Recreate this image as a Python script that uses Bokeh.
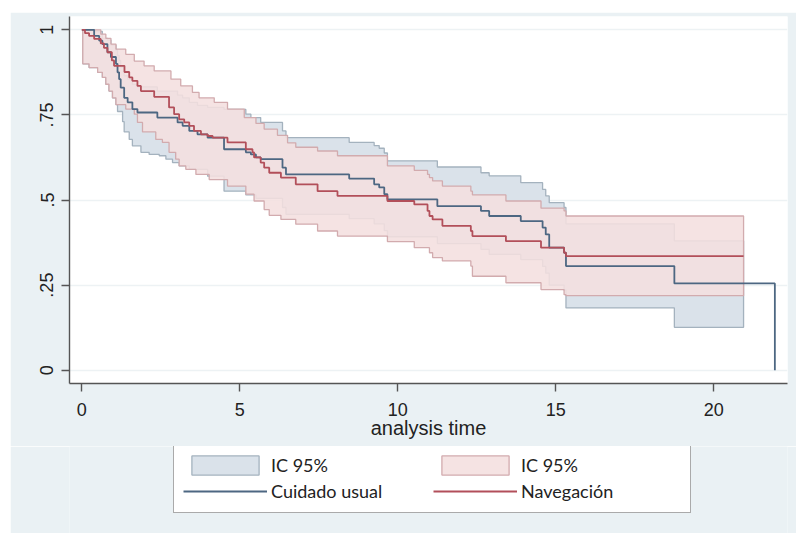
import numpy as np
from bokeh.plotting import figure
from bokeh.models import Range1d, FixedTicker, Legend, LegendItem, Spacer
from bokeh.layouts import column, row
from bokeh.embed import file_html
from bokeh.resources import INLINE

# ---- Kaplan-Meier estimates: step times and survival after each step ----
cu_time = [0, 0.39, 0.55, 0.65, 0.81, 0.92, 1.08, 1.13, 1.18, 1.23, 1.34, 1.45, 1.60, 1.76,
           2.39, 3.03, 3.19, 3.40, 3.66, 3.98, 4.50, 5.19, 5.35, 5.51, 5.66, 6.35, 6.46,
           8.46, 9.25, 9.41, 9.57, 9.67, 11.25, 12.63, 12.89, 13.89, 14.58, 14.68, 14.79,
           15.26, 15.32, 18.75, 21.93]
cu_surv = [1.0, 0.982, 0.968, 0.958, 0.934, 0.92, 0.90, 0.875, 0.855, 0.83, 0.80, 0.787, 0.767, 0.757,
           0.742, 0.728, 0.718, 0.703, 0.693, 0.683, 0.649, 0.64, 0.634, 0.625, 0.62, 0.595, 0.575,
           0.563, 0.546, 0.537, 0.517, 0.502, 0.482, 0.468, 0.453, 0.438, 0.419, 0.399, 0.36,
           0.345, 0.306, 0.255, 0.0]

nav_time = [0, 0.10, 0.23, 0.39, 0.60, 0.70, 0.81, 0.95, 1.02, 1.35, 1.50, 1.60, 1.76, 1.87, 2.29,
            2.76, 2.92, 3.08, 3.24, 3.40, 3.55, 3.77, 3.98, 4.14, 4.61, 5.19, 5.40, 5.45, 5.66,
            5.77, 5.93, 6.30, 6.77, 7.46, 8.09, 9.67, 10.52, 10.94, 11.00, 11.10, 11.41, 12.31,
            12.36, 13.42, 14.53, 15.26, 15.32]
nav_surv = [1.0, 0.99, 0.982, 0.973, 0.96, 0.947, 0.934, 0.91, 0.894, 0.876, 0.86, 0.85, 0.835, 0.82, 0.803,
            0.772, 0.752, 0.737, 0.728, 0.718, 0.703, 0.693, 0.688, 0.683, 0.669, 0.649, 0.64, 0.625, 0.61,
            0.595, 0.58, 0.566, 0.546, 0.526, 0.512, 0.497, 0.487, 0.468, 0.453, 0.443, 0.424, 0.409,
            0.394, 0.379, 0.36, 0.345, 0.335]
nav_end = 20.94        # last follow-up time, Navegación
ci_end = 20.94         # last time with a confidence interval (both groups)

# ---- 95% confidence limits ----
cu_up_time = [0.03, 0.39, 0.65, 0.81, 0.92, 1.08, 1.13, 1.18, 1.23, 1.34, 1.45, 1.60, 1.76, 2.39,
              3.03, 3.19, 3.40, 3.66, 3.98, 4.50, 5.19, 5.35, 5.66, 6.35, 6.46, 8.46, 9.25, 9.41,
              9.57, 9.67, 11.25, 12.63, 12.89, 13.89, 14.58, 14.68, 14.79, 15.26, 15.32, 18.75]
cu_up = [1.0, 0.995, 0.975, 0.97, 0.955, 0.94, 0.925, 0.91, 0.89, 0.865, 0.855, 0.84, 0.832, 0.82,
         0.808, 0.80, 0.787, 0.778, 0.772, 0.766, 0.752, 0.742, 0.728, 0.703, 0.683, 0.669, 0.66, 0.652,
         0.638, 0.615, 0.597, 0.58, 0.571, 0.551, 0.531, 0.512, 0.492, 0.478, 0.43, 0.38]

cu_lo_time = [0.03, 0.23, 0.50, 0.65, 0.76, 0.86, 0.97, 1.08, 1.13, 1.29, 1.34, 1.50, 1.60, 1.87,
              2.13, 2.45, 2.66, 2.87, 3.08, 3.40, 3.98, 4.50, 5.19, 5.51, 6.35, 6.46, 8.46, 9.25,
              9.57, 9.67, 11.25, 12.63, 12.89, 13.89, 14.58, 14.68, 14.79, 15.26, 15.32, 18.75]
cu_lo = [0.90, 0.889, 0.875, 0.86, 0.84, 0.82, 0.80, 0.78, 0.76, 0.73, 0.70, 0.678, 0.659, 0.64,
         0.634, 0.63, 0.62, 0.61, 0.60, 0.59, 0.57, 0.526, 0.515, 0.505, 0.478, 0.458, 0.445, 0.43,
         0.41, 0.392, 0.372, 0.355, 0.34, 0.325, 0.305, 0.285, 0.25, 0.235, 0.183, 0.126]

nav_up_time = [0.03, 0.60, 0.76, 0.92, 1.08, 1.39, 1.66, 1.97, 2.29, 2.82, 3.13, 3.50, 3.71, 4.19,
               4.61, 5.14, 5.51, 5.77, 6.19, 6.51, 6.77, 7.46, 8.09, 9.67, 10.52, 10.94, 11.00,
               11.10, 11.41, 12.31, 12.36, 13.42, 14.53, 15.26, 15.32]
nav_up = [1.0, 0.987, 0.975, 0.958, 0.943, 0.928, 0.908, 0.894, 0.879, 0.855, 0.835, 0.816, 0.80, 0.787,
          0.767, 0.742, 0.725, 0.708, 0.69, 0.668, 0.655, 0.644, 0.63, 0.60, 0.587, 0.575, 0.566,
          0.556, 0.541, 0.526, 0.515, 0.497, 0.476, 0.468, 0.453]

nav_lo_time = [0.03, 0.23, 0.50, 0.65, 0.76, 0.86, 0.97, 1.08, 1.39, 1.66, 1.76, 1.92, 2.34, 2.55,
               2.76, 2.97, 3.08, 3.29, 3.61, 4.03, 4.61, 5.19, 5.45, 5.77, 5.93, 6.30, 6.77, 7.46,
               8.09, 9.67, 10.52, 11.00, 11.10, 11.41, 12.31, 12.36, 13.42, 14.53, 15.26, 15.32]
nav_lo = [0.90, 0.889, 0.875, 0.86, 0.84, 0.82, 0.80, 0.78, 0.767, 0.752, 0.728, 0.70, 0.678, 0.669,
          0.64, 0.62, 0.60, 0.59, 0.575, 0.56, 0.541, 0.517, 0.497, 0.472, 0.455, 0.443, 0.429, 0.409,
          0.394, 0.378, 0.36, 0.345, 0.331, 0.321, 0.306, 0.276, 0.257, 0.237, 0.222, 0.219]

x_ticks = [0, 5, 10, 15, 20]
y_ticks = [0, 0.25, 0.5, 0.75, 1]
y_tick_labels = ["0", ".25", ".5", ".75", "1"]
x_label = "analysis time"
labels = ["IC 95%", "Cuidado usual", "IC 95%", "Navegación"]


def step_eval(times, vals, grid):
    t = np.asarray(times)
    v = np.asarray(vals)
    idx = np.searchsorted(t, grid, side="right") - 1
    return v[np.clip(idx, 0, len(v) - 1)]


def band_polygon(ut, uv, lt, lv, end):
    grid = np.union1d(ut, lt)
    grid = grid[grid < end]
    u = step_eval(ut, uv, grid)
    l = step_eval(lt, lv, grid)
    nxt = np.append(grid[1:], end)
    ux = np.column_stack([grid, nxt]).ravel()
    uy = np.repeat(u, 2)
    lx = np.column_stack([grid, nxt]).ravel()[::-1]
    ly = np.repeat(l, 2)[::-1]
    return np.concatenate([ux, lx]), np.concatenate([uy, ly])


BG = "#eaf1f4"
FONT = "Liberation Sans"
CU_FILL, CU_EDGE, CU_LINE = "#dae2ea", "#a4b2be", "#4d6782"
NAV_FILL, NAV_EDGE, NAV_LINE = "#f4dfdf", "#d2abae", "#b24f5a"

bx, by = band_polygon(cu_up_time, cu_up, cu_lo_time, cu_lo, ci_end)
rx, ry = band_polygon(nav_up_time, nav_up, nav_lo_time, nav_lo, ci_end)


def draw_curves(fig):
    a = fig.patch(bx, by, fill_color=CU_FILL, fill_alpha=1.0, line_color=CU_EDGE, line_width=1.3)
    b = fig.patch(rx, ry, fill_color=NAV_FILL, fill_alpha=0.88, line_color=NAV_EDGE, line_width=1.3)
    c = fig.step(cu_time, cu_surv, mode="after", line_color=CU_LINE, line_width=1.8)
    d = fig.step(nav_time + [nav_end], nav_surv + [nav_surv[-1]], mode="after",
                 line_color=NAV_LINE, line_width=1.8)
    return a, b, c, d


# ---------------- main survival plot ----------------
p = figure(width=786, height=434, output_backend="svg", toolbar_location=None,
           x_range=Range1d(-0.39, 22.33), y_range=Range1d(-0.039, 1.039),
           min_border_left=59, min_border_right=9, min_border_top=4, min_border_bottom=63)
p.background_fill_color = "white"
p.border_fill_color = BG
p.outline_line_color = None

draw_curves(p)

for ax in (p.xaxis[0], p.yaxis[0]):
    ax.axis_line_color = "#555555"
    ax.axis_line_width = 1.4
    ax.major_tick_line_color = "#555555"
    ax.major_tick_line_width = 1.4
    ax.major_tick_out = 8
    ax.major_tick_in = 0
    ax.minor_tick_line_color = None
    ax.major_label_text_font = FONT
    ax.major_label_text_font_size = "18px"
    ax.major_label_text_color = "#222222"

p.xaxis.ticker = FixedTicker(ticks=x_ticks)
p.xaxis.major_label_standoff = 11
p.xaxis.axis_label = x_label
p.xaxis.axis_label_text_font = FONT
p.xaxis.axis_label_text_font_size = "20px"
p.xaxis.axis_label_text_font_style = "normal"
p.xaxis.axis_label_text_color = "#222222"
p.xaxis.axis_label_standoff = -2

p.yaxis.ticker = FixedTicker(ticks=y_ticks)
p.yaxis.major_label_overrides = {t: s for t, s in zip(y_ticks, y_tick_labels)}
p.yaxis.major_label_orientation = "vertical"
p.yaxis.major_label_standoff = 8

p.xgrid.visible = False
p.ygrid.ticker = FixedTicker(ticks=y_ticks)
p.ygrid.grid_line_color = "#edf2f4"
p.ygrid.grid_line_width = 1.3

# ---------------- legend strip (curves kept out of view; only the key shows) ----------------
lg = figure(width=786, height=87, output_backend="svg", toolbar_location=None,
            x_axis_location=None, y_axis_location=None,
            x_range=Range1d(100, 101), y_range=Range1d(100, 101),
            min_border_left=59, min_border_right=9, min_border_top=0, min_border_bottom=0)
lg.background_fill_color = BG
lg.border_fill_color = BG
lg.outline_line_color = None
lg.grid.visible = False

k_cu_band, k_nav_band, k_cu, k_nav = draw_curves(lg)

legend = Legend(items=[
    LegendItem(label=labels[0], renderers=[k_cu_band]),
    LegendItem(label=labels[1], renderers=[k_cu]),
    LegendItem(label=labels[2], renderers=[k_nav_band]),
    LegendItem(label=labels[3], renderers=[k_nav]),
], orientation="vertical", ncols=2, location=(104, 20))
legend.margin = 0
legend.padding = 9
legend.spacing = 2
legend.glyph_width = 84
legend.glyph_height = 24
legend.label_standoff = 4
legend.label_width = 160
legend.label_text_font = "Lato"
legend.label_text_font_size = "18px"
legend.label_text_color = "#222222"
legend.border_line_color = "#555555"
legend.border_line_width = 1.3
legend.background_fill_color = "white"
legend.background_fill_alpha = 1.0
lg.add_layout(legend, "center")

layout = column(Spacer(height=12), row(Spacer(width=10), column(p, lg)))
open("out.html", "w").write(file_html(layout, INLINE))
